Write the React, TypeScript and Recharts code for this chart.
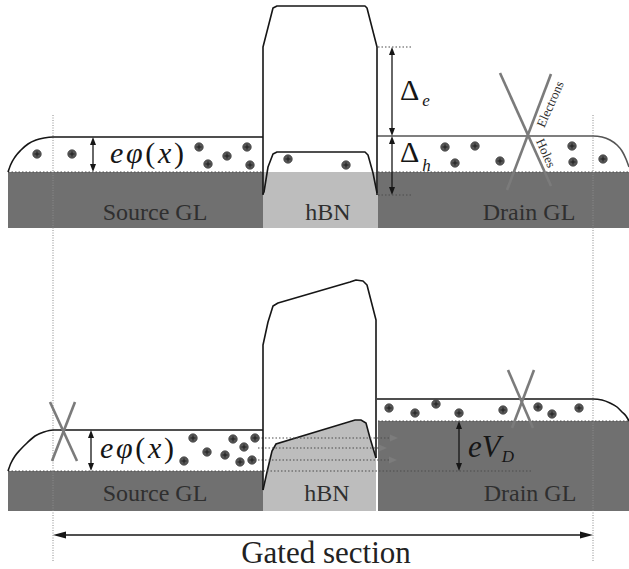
import {
  ComposedChart,
  XAxis,
  YAxis,
  Line,
  Area,
  Scatter,
  ReferenceArea,
  ReferenceLine,
} from 'recharts';

const W = 629;
const H = 569;

const INK = '#161616';
const GL_FILL = '#707070';
const HBN_FILL = '#bdbdbd';
const GUIDE = '#4d4d4d';
const BOUNDARY = '#8a8a8a';
const CROSS = '#7b7b7b';
const TEXT = '#2f2f2f';
const SERIF = 'Liberation Serif, Times New Roman, DejaVu Serif, serif';

// x = position along the junction, y = electron energy (arbitrary units)

// ---- upper panel: equilibrium ----
const topBands = [
  { part: 'gl', x1: 8, x2: 263, lo: 341, hi: 397 },
  { part: 'hbn', x1: 263, x2: 378, lo: 341, hi: 397 },
  { part: 'gl', x1: 378, x2: 629, lo: 341, hi: 397 },
];
const sourceEdgeTop = [
  { x: 8, y: 397 }, { x: 11, y: 405 }, { x: 15, y: 412 }, { x: 21, y: 419 },
  { x: 28, y: 425 }, { x: 36, y: 429 }, { x: 44, y: 431 }, { x: 53, y: 432 }, { x: 263, y: 432 },
];
const drainEdgeTop = [
  { x: 377, y: 433 }, { x: 593, y: 433 }, { x: 602, y: 432 }, { x: 610, y: 429 },
  { x: 617, y: 424 }, { x: 622, y: 418 }, { x: 626, y: 410 }, { x: 629, y: 402 },
];
const barrierTop = [
  { x: 263, y: 374 }, { x: 263, y: 522 }, { x: 273, y: 561 }, { x: 277, y: 563 },
  { x: 365, y: 563 }, { x: 367, y: 561 }, { x: 377, y: 522 }, { x: 377, y: 374 },
];
const valenceTop = [
  { x: 263, y: 375 }, { x: 264, y: 377 }, { x: 268, y: 402 }, { x: 273, y: 415 }, { x: 277, y: 417 },
  { x: 365, y: 417 }, { x: 368, y: 414 }, { x: 373, y: 396 }, { x: 377, y: 376 },
];
const carriersTop = [
  { x: 37, y: 415 }, { x: 72, y: 415 }, { x: 199, y: 422 }, { x: 208, y: 405 }, { x: 227, y: 413 },
  { x: 247, y: 422 }, { x: 250, y: 404 }, { x: 288, y: 410 }, { x: 346, y: 404 },
  { x: 445, y: 422 }, { x: 475, y: 423 }, { x: 455, y: 406 }, { x: 500, y: 408 },
  { x: 572, y: 423 }, { x: 573, y: 407 }, { x: 603, y: 410 },
];

// ---- lower panel: drain bias V_D ----
const bottomBands = [
  { part: 'gl', x1: 8, x2: 263, lo: 58, hi: 98 },
  { part: 'gl', x1: 378, x2: 629, lo: 58, hi: 148 },
];
const sourceEdgeBottom = [
  { x: 8, y: 98 }, { x: 11, y: 106 }, { x: 15, y: 113 }, { x: 20, y: 119 }, { x: 27, y: 126 },
  { x: 35, y: 133 }, { x: 44, y: 137 }, { x: 53, y: 139 }, { x: 263, y: 139 },
];
const drainEdgeBottom = [
  { x: 377, y: 170 }, { x: 593, y: 170 }, { x: 602, y: 169 }, { x: 610, y: 166 },
  { x: 617, y: 162 }, { x: 622, y: 157 }, { x: 626, y: 153 }, { x: 629, y: 148 },
];
const barrierBottom = [
  { x: 263, y: 79 }, { x: 263, y: 224 }, { x: 268, y: 247 }, { x: 273, y: 263 }, { x: 278, y: 266 },
  { x: 350, y: 287 }, { x: 356, y: 289 }, { x: 363, y: 288 }, { x: 367, y: 284 }, { x: 376, y: 249 },
  { x: 376, y: 111 },
];
const valenceBottom = [
  { x: 263, y: 79 }, { x: 267, y: 97 }, { x: 272, y: 118 }, { x: 276, y: 125 }, { x: 355, y: 149 },
  { x: 361, y: 149 }, { x: 366, y: 146 }, { x: 370, y: 131 }, { x: 376, y: 111 },
];
const carriersBottom = [
  { x: 193, y: 131 }, { x: 184, y: 108 }, { x: 207, y: 117 }, { x: 225, y: 114 }, { x: 233, y: 130 },
  { x: 244, y: 122 }, { x: 255, y: 131 }, { x: 240, y: 107 }, { x: 252, y: 109 },
  { x: 389, y: 161 }, { x: 415, y: 156 }, { x: 436, y: 165 }, { x: 459, y: 156 },
  { x: 503, y: 159 }, { x: 538, y: 162 }, { x: 552, y: 155 }, { x: 579, y: 161 },
];
const tunnelPaths = [
  { x1: 258, y1: 131, x2: 398, y2: 131 },
  { x1: 258, y1: 121, x2: 387, y2: 121 },
  { x1: 258, y1: 109, x2: 397, y2: 109 },
];

// ---- guides and annotations ----
const levelGuides = [
  { x1: 8, y1: 397, x2: 263, y2: 397 },
  { x1: 378, y1: 397, x2: 629, y2: 397 },
  { x1: 378, y1: 522, x2: 412, y2: 522 },
  { x1: 378, y1: 374, x2: 412, y2: 374 },
  { x1: 8, y1: 98, x2: 532, y2: 98 },
  { x1: 378, y1: 148, x2: 629, y2: 148 },
];
const gateEdges = [
  { x1: 53, y1: 454, x2: 53, y2: 7 },
  { x1: 593, y1: 454, x2: 593, y2: 7 },
];
const energyArrows = [
  { x1: 93, y1: 432, x2: 93, y2: 397 },
  { x1: 392, y1: 522, x2: 392, y2: 433 },
  { x1: 392, y1: 433, x2: 392, y2: 374 },
  { x1: 91, y1: 139, x2: 91, y2: 98 },
  { x1: 459, y1: 148, x2: 459, y2: 98 },
];
const gatedSpan = [{ x1: 53, y1: 34, x2: 593, y2: 34 }];
const blockedCrosses = [
  { x1: 500, y1: 496, x2: 551, y2: 383 },
  { x1: 551, y1: 495, x2: 507, y2: 379 },
  { x1: 50, y1: 167, x2: 77, y2: 108 },
  { x1: 75, y1: 167, x2: 52, y2: 108 },
  { x1: 508, y1: 199, x2: 533, y2: 141 },
  { x1: 534, y1: 199, x2: 512, y2: 141 },
];

const regionNames = [
  { text: 'Source GL', x: 155, y: 349 },
  { text: 'hBN', x: 328, y: 349 },
  { text: 'Drain GL', x: 529, y: 349 },
  { text: 'Source GL', x: 155, y: 68 },
  { text: 'hBN', x: 327, y: 68 },
  { text: 'Drain GL', x: 530, y: 68 },
];
const symbolLabels = [
  { kind: 'phi', x: 110, y: 406 },
  { kind: 'phi', x: 100, y: 111 },
  { kind: 'De', x: 400, y: 469 },
  { kind: 'Dh', x: 400, y: 407 },
  { kind: 'VD', x: 468, y: 112 },
  { kind: 'electrons', x: 550, y: 465 },
  { kind: 'holes', x: 546, y: 416 },
  { kind: 'gated', x: 326, y: 6 },
];

const seg = (s: { x1: number; y1: number; x2: number; y2: number }) =>
  [{ x: s.x1, y: s.y1 }, { x: s.x2, y: s.y2 }] as any;

function arrowShape(color: string, width: number, len: number, wid: number, both: boolean, dash?: string) {
  return (p: any) => {
    const { x1, y1, x2, y2 } = p;
    const dx = x2 - x1;
    const dy = y2 - y1;
    const L = Math.hypot(dx, dy) || 1;
    const ux = dx / L;
    const uy = dy / L;
    const nx = -uy;
    const ny = ux;
    const head = (tx: number, ty: number, s: number) => {
      const bx = tx - s * ux * len;
      const by = ty - s * uy * len;
      return `${tx},${ty} ${bx + (nx * wid) / 2},${by + (ny * wid) / 2} ${bx - (nx * wid) / 2},${by - (ny * wid) / 2}`;
    };
    const sx = both ? x1 + ux * len * 0.8 : x1;
    const sy = both ? y1 + uy * len * 0.8 : y1;
    const ex = x2 - ux * len * 0.8;
    const ey = y2 - uy * len * 0.8;
    return (
      <g>
        <line x1={sx} y1={sy} x2={ex} y2={ey} stroke={dash ? GUIDE : color} strokeWidth={width} strokeDasharray={dash} />
        {both && <polygon points={head(x1, y1, -1)} fill={color} />}
        <polygon points={head(x2, y2, 1)} fill={color} />
      </g>
    );
  };
}

const Carrier = (p: any) => {
  const { cx, cy } = p;
  return (
    <g>
      <circle cx={cx} cy={cy} r={4.3} fill="#565656" stroke="#383838" strokeWidth={0.6} />
      <path d={`M${cx - 2.5},${cy}h5M${cx},${cy - 2.5}v5`} stroke="#1e1e1e" strokeWidth={1} />
    </g>
  );
};

const RegionName = (p: any) => (
  <text x={p.cx} y={p.cy} textAnchor="middle" style={{ fontFamily: SERIF, fontSize: 24 }} fill={TEXT}>
    {p.payload.text}
  </text>
);

const SymbolLabel = (p: any) => {
  const { cx, cy } = p;
  const kind = p.payload.kind;
  if (kind === 'phi') {
    return (
      <text x={cx} y={cy} style={{ fontFamily: SERIF, fontSize: 30 }} fill={INK} textLength={74} lengthAdjust="spacing">
        <tspan fontStyle="italic">eφ</tspan>
        <tspan>(</tspan>
        <tspan fontStyle="italic">x</tspan>
        <tspan>)</tspan>
      </text>
    );
  }
  if (kind === 'De' || kind === 'Dh') {
    return (
      <text x={cx} y={cy} style={{ fontFamily: SERIF, fontSize: 30 }} fill={INK}>
        Δ
        <tspan fontSize={17} fontStyle="italic" dx={3} dy={kind === 'De' ? 6 : 9}>
          {kind === 'De' ? 'e' : 'h'}
        </tspan>
      </text>
    );
  }
  if (kind === 'VD') {
    return (
      <text x={cx} y={cy} style={{ fontFamily: SERIF, fontSize: 31, fontStyle: 'italic' }} fill={INK}>
        eV
        <tspan fontSize={17} dx={1} dy={5}>D</tspan>
      </text>
    );
  }
  if (kind === 'electrons' || kind === 'holes') {
    return (
      <text
        x={cx}
        y={cy}
        transform={`rotate(${kind === 'electrons' ? -66 : 66} ${cx} ${cy})`}
        textAnchor="middle"
        dominantBaseline="central"
        style={{ fontFamily: SERIF, fontSize: 13 }}
        fill={TEXT}
      >
        {kind === 'electrons' ? 'Electrons' : 'Holes'}
      </text>
    );
  }
  return (
    <text x={cx} y={cy} textAnchor="middle" style={{ fontFamily: SERIF, fontSize: 31 }} fill="#222">
      Gated section
    </text>
  );
};

const edgeLine = (data: { x: number; y: number }[], key: string, color: string, curve: 'linear' | 'monotone') => (
  <Line
    key={key}
    data={data}
    dataKey="y"
    type={curve}
    stroke={color}
    strokeWidth={1.6}
    strokeLinejoin="round"
    dot={false}
    activeDot={false}
    isAnimationActive={false}
  />
);

export default function App() {
  return (
    <div style={{ position: 'absolute', left: 0, top: 0, width: W, height: H, background: '#fff' }}>
      <ComposedChart width={W} height={H} margin={{ top: 0, right: 0, bottom: 0, left: 0 }}>
        <XAxis dataKey="x" type="number" domain={[0, W]} allowDataOverflow hide />
        <YAxis dataKey="y" type="number" domain={[0, H]} allowDataOverflow hide />

        {[...topBands, ...bottomBands].map((b, i) => (
          <ReferenceArea
            key={`band${i}`}
            x1={b.x1}
            x2={b.x2}
            y1={b.lo}
            y2={b.hi}
            fill={b.part === 'gl' ? GL_FILL : HBN_FILL}
            fillOpacity={1}
            stroke="none"
            ifOverflow="visible"
          />
        ))}

        <Area
          data={valenceBottom}
          dataKey="y"
          type="linear"
          baseValue={58}
          fill={HBN_FILL}
          fillOpacity={1}
          stroke={INK}
          strokeWidth={1.6}
          dot={false}
          activeDot={false}
          isAnimationActive={false}
        />

        {levelGuides.map((s, i) => (
          <ReferenceLine key={`lg${i}`} segment={seg(s)} stroke={GUIDE} strokeWidth={1.2} strokeDasharray="1.5 2" ifOverflow="visible" />
        ))}
        {gateEdges.map((s, i) => (
          <ReferenceLine key={`ge${i}`} segment={seg(s)} stroke={BOUNDARY} strokeWidth={1} strokeDasharray="1 1.5" ifOverflow="visible" />
        ))}
        {tunnelPaths.map((s, i) => (
          <ReferenceLine key={`tp${i}`} segment={seg(s)} ifOverflow="visible" shape={arrowShape('#7c7c7c', 1.2, 8, 7, false, '1.5 2')} />
        ))}

        {edgeLine(sourceEdgeTop, 'st', INK, 'monotone')}
        {edgeLine(drainEdgeTop, 'dt', '#555', 'monotone')}
        {edgeLine(barrierTop, 'bt', INK, 'linear')}
        {edgeLine(valenceTop, 'vt', INK, 'linear')}
        {edgeLine(sourceEdgeBottom, 'sb', INK, 'monotone')}
        {edgeLine(drainEdgeBottom, 'db', INK, 'monotone')}
        {edgeLine(barrierBottom, 'bb', INK, 'linear')}

        <Scatter data={[...carriersTop, ...carriersBottom]} shape={Carrier} isAnimationActive={false} />

        {energyArrows.map((s, i) => (
          <ReferenceLine key={`ea${i}`} segment={seg(s)} ifOverflow="visible" shape={arrowShape(INK, 1.3, 8, 6, true)} />
        ))}
        {gatedSpan.map((s, i) => (
          <ReferenceLine key={`gs${i}`} segment={seg(s)} ifOverflow="visible" shape={arrowShape(INK, 1.5, 13, 7, true)} />
        ))}
        {blockedCrosses.map((s, i) => (
          <ReferenceLine key={`bc${i}`} segment={seg(s)} stroke={CROSS} strokeWidth={2.6} ifOverflow="visible" />
        ))}

        <Scatter data={regionNames} shape={RegionName} isAnimationActive={false} />
        <Scatter data={symbolLabels} shape={SymbolLabel} isAnimationActive={false} />
      </ComposedChart>
    </div>
  );
}
